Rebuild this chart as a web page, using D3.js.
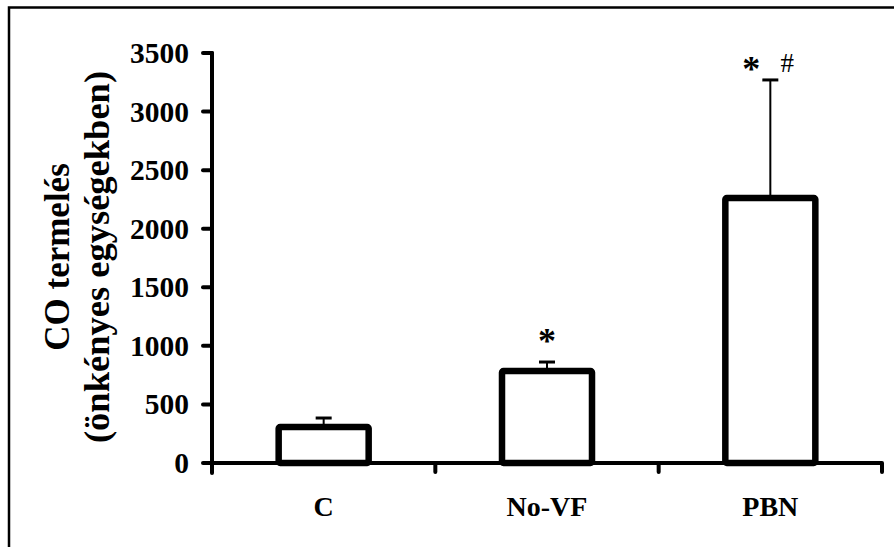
<html>
<head>
<meta charset="utf-8">
<title>CO termelés</title>
<style>
body { margin: 0; background: #fff; }
svg text { font-family: "Liberation Serif", "Times New Roman", serif; font-weight: bold; fill: #000; }
</style>
</head>
<body>
<div id="chart"></div>
<script src="https://cdn.jsdelivr.net/npm/d3@7"></script>
<script>
	// values
	var groups = [ "C", "No-VF", "PBN" ];
	var means = [ 307, 785, 2262 ];
	var sds = [ 77, 77, 1008 ];
	var marks = [ [], [ "*" ], [ "*", "#" ] ];
	var yTicks = [ 0, 500, 1000, 1500, 2000, 2500, 3000, 3500 ];
	var yTitle = [ "CO termelés", "(önkényes egységekben)" ];

	var W = 894, H = 547;
	var svg = d3.select("#chart").append("svg").attr("width", W).attr("height", H);

	// frame (right and bottom edges fall outside the picture)
	svg.append("rect").attr("x", 9).attr("y", 7.5).attr("width", W + 20)
			.attr("height", H + 20).attr("fill", "none").attr("stroke", "#000")
			.attr("stroke-width", 2.5);

	var x = d3.scaleBand().domain(groups).range([ 212, 882 ]);
	var y = d3.scaleLinear().domain([ 0, 3500 ]).range([ 463, 53 ]);

	// y axis
	var gy = svg.append("g").attr("transform", "translate(212,0)");
	gy.append("line").attr("y1", y(3500)).attr("y2", 473).attr("stroke", "#000")
			.attr("stroke-width", 4).attr("stroke-linecap", "round");
	gy.selectAll("line.tick").data(yTicks).enter().append("line")
			.attr("class", "tick").attr("x1", -9).attr("x2", 0)
			.attr("y1", y).attr("y2", y).attr("stroke", "#000")
			.attr("stroke-width", 4).attr("stroke-linecap", "round");
	gy.selectAll("text").data(yTicks).enter().append("text")
			.attr("x", -23).attr("y", function(d) { return y(d) + 10; })
			.attr("text-anchor", "end").attr("font-size", 29.5)
			.text(function(d) { return d; });

	// x axis
	var gx = svg.append("g").attr("transform", "translate(0," + y(0) + ")");
	gx.append("line").attr("x1", 212).attr("x2", 882).attr("stroke", "#000")
			.attr("stroke-width", 4);
	var bounds = groups.map(function(g) { return x(g) + x.bandwidth(); });
	gx.selectAll("line.tick").data(bounds).enter().append("line")
			.attr("class", "tick").attr("x1", function(d) { return d; })
			.attr("x2", function(d) { return d; }).attr("y1", 0).attr("y2", 9)
			.attr("stroke", "#000").attr("stroke-width", 4)
			.attr("stroke-linecap", "round");
	gx.selectAll("text").data(groups).enter().append("text")
			.attr("x", function(d) { return x(d) + x.bandwidth() / 2; })
			.attr("y", 53).attr("text-anchor", "middle").attr("font-size", 28)
			.text(function(d) { return d; });

	// bars
	var barW = 90;
	var cx = function(i) { return x(groups[i]) + x.bandwidth() / 2; };
	var bars = svg.append("g");
	// error bars (upper only), drawn under the bars
	bars.selectAll("line.err").data(means).enter().append("line")
			.attr("class", "err").attr("x1", function(d, i) { return cx(i); })
			.attr("x2", function(d, i) { return cx(i); })
			.attr("y1", function(d) { return y(d); })
			.attr("y2", function(d, i) { return y(d + sds[i]); })
			.attr("stroke", "#000").attr("stroke-width", 2);
	bars.selectAll("line.cap").data(means).enter().append("line")
			.attr("class", "cap").attr("x1", function(d, i) { return cx(i) - 8; })
			.attr("x2", function(d, i) { return cx(i) + 8; })
			.attr("y1", function(d, i) { return y(d + sds[i]); })
			.attr("y2", function(d, i) { return y(d + sds[i]); })
			.attr("stroke", "#000").attr("stroke-width", 3);
	bars.selectAll("rect").data(means).enter().append("rect")
			.attr("x", function(d, i) { return cx(i) - barW / 2; })
			.attr("y", function(d) { return y(d); }).attr("width", barW)
			.attr("height", function(d) { return y(0) - y(d); })
			.attr("fill", "#fff").attr("stroke", "#000").attr("stroke-width", 6.5)
			.attr("rx", 1.5);

	// significance marks: gap above the cap, horizontal offsets
	var markGap = [ 0, 27, 17 ];
	var markDx = [ [ 0 ], [ 0 ], [ -19, 17 ] ];
	marks.forEach(function(m, i) {
		var top = y(means[i] + sds[i]) - markGap[i];
		m.forEach(function(s, j) {
			var star = s == "*";
			svg.append("text").attr("x", cx(i) + markDx[i][j])
					.attr("y", star ? top + 18 : top + 9)
					.attr("text-anchor", "middle")
					.attr("font-size", star ? 36 : 27)
					.style("font-weight", star ? "bold" : "normal")
					.text(s);
		});
	});

	// y title, two rotated lines
	var titleSize = [ 35, 36.5 ];
	yTitle.forEach(function(t, i) {
		svg.append("text").attr("transform",
				"translate(" + (69 + i * 40) + ",257) rotate(-90)")
				.attr("text-anchor", "middle").attr("font-size", titleSize[i]).text(t);
	});
</script>
</body>
</html>
